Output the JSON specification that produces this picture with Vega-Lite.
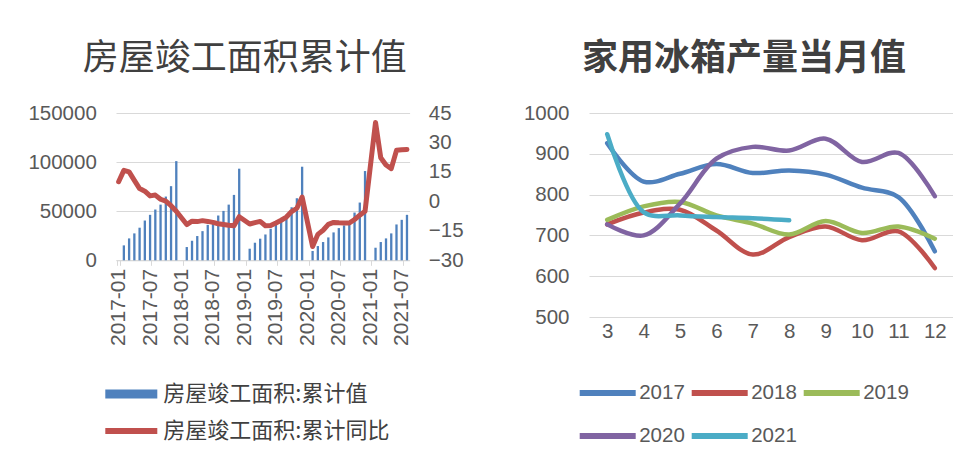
{
  "$schema": "https://vega.github.io/schema/vega-lite/v6.json",
  "background": "white",
  "padding": {"left": 27, "top": 41, "right": 0, "bottom": 0},
  "spacing": 59,
  "config": {
    "view": {"stroke": null},
    "axis": {"labelFont": "Liberation Sans", "labelFontSize": 20.5, "labelColor": "#595959", "titleColor": "#595959"},
    "legend": {"labelFont": "Liberation Sans", "labelColor": "#404040", "labelLimit": 400},
    "title": {"font": "Noto Sans CJK SC", "fontSize": 36, "color": "#404040", "anchor": "middle"}
  },
  "hconcat": [
    {
      "title": {"text": "房屋竣工面积累计值", "fontWeight": "normal", "dx": -18, "offset": 25},
      "width": 293.6,
      "height": 147.3,
      "data": {"values": [
        {"month": "2017-01", "value": null, "yoy": 10.0},
        {"month": "2017-02", "value": 15200, "yoy": 15.8},
        {"month": "2017-03", "value": 22300, "yoy": 15.0},
        {"month": "2017-04", "value": 27400, "yoy": 10.7},
        {"month": "2017-05", "value": 33200, "yoy": 6.5},
        {"month": "2017-06", "value": 40500, "yoy": 5.2},
        {"month": "2017-07", "value": 46300, "yoy": 2.8},
        {"month": "2017-08", "value": 51700, "yoy": 3.2},
        {"month": "2017-09", "value": 56700, "yoy": 1.1},
        {"month": "2017-10", "value": 64900, "yoy": 0.1},
        {"month": "2017-11", "value": 75500, "yoy": -2.2},
        {"month": "2017-12", "value": 101000, "yoy": -5.0},
        {"month": "2018-01", "value": null, "yoy": null},
        {"month": "2018-02", "value": 13500, "yoy": -11.8},
        {"month": "2018-03", "value": 19900, "yoy": -10.1},
        {"month": "2018-04", "value": 24700, "yoy": -10.3},
        {"month": "2018-05", "value": 29700, "yoy": -9.8},
        {"month": "2018-06", "value": 36100, "yoy": -10.2},
        {"month": "2018-07", "value": 40800, "yoy": -10.7},
        {"month": "2018-08", "value": 45600, "yoy": -11.4},
        {"month": "2018-09", "value": 50300, "yoy": -11.8},
        {"month": "2018-10", "value": 56700, "yoy": -12.2},
        {"month": "2018-11", "value": 66600, "yoy": -12.4},
        {"month": "2018-12", "value": 93300, "yoy": -7.8},
        {"month": "2019-01", "value": null, "yoy": null},
        {"month": "2019-02", "value": 11800, "yoy": -11.5},
        {"month": "2019-03", "value": 17900, "yoy": -10.8},
        {"month": "2019-04", "value": 22000, "yoy": -10.2},
        {"month": "2019-05", "value": 26300, "yoy": -12.4},
        {"month": "2019-06", "value": 32100, "yoy": -12.3},
        {"month": "2019-07", "value": 37200, "yoy": -11.0},
        {"month": "2019-08", "value": 40500, "yoy": -9.6},
        {"month": "2019-09", "value": 45600, "yoy": -8.0},
        {"month": "2019-10", "value": 54000, "yoy": -5.2},
        {"month": "2019-11", "value": 63200, "yoy": -3.5},
        {"month": "2019-12", "value": 95300, "yoy": 2.2},
        {"month": "2020-01", "value": null, "yoy": null},
        {"month": "2020-02", "value": 9500, "yoy": -23.0},
        {"month": "2020-03", "value": 14500, "yoy": -16.8},
        {"month": "2020-04", "value": 18600, "yoy": -14.7},
        {"month": "2020-05", "value": 23300, "yoy": -11.7},
        {"month": "2020-06", "value": 28400, "yoy": -10.7},
        {"month": "2020-07", "value": 32800, "yoy": -10.9},
        {"month": "2020-08", "value": 35500, "yoy": -11.0},
        {"month": "2020-09", "value": 38800, "yoy": -11.0},
        {"month": "2020-10", "value": 48600, "yoy": -9.2},
        {"month": "2020-11", "value": 58800, "yoy": -7.0},
        {"month": "2020-12", "value": 90900, "yoy": -5.0},
        {"month": "2021-01", "value": null, "yoy": null},
        {"month": "2021-02", "value": 12800, "yoy": 40.2},
        {"month": "2021-03", "value": 18600, "yoy": 22.2},
        {"month": "2021-04", "value": 22300, "yoy": 18.5},
        {"month": "2021-05", "value": 27400, "yoy": 16.7},
        {"month": "2021-06", "value": 36500, "yoy": 26.0},
        {"month": "2021-07", "value": 41200, "yoy": 26.3},
        {"month": "2021-08", "value": 46300, "yoy": 26.4}
      ]},
      "layer": [
        {
          "mark": {"type": "bar", "invalid": "filter"},
          "encoding": {
            "x": {
              "field": "month", "type": "ordinal",
              "scale": {
                "domain": ["2017-01","2017-02","2017-03","2017-04","2017-05","2017-06","2017-07","2017-08","2017-09","2017-10","2017-11","2017-12",
                           "2018-01","2018-02","2018-03","2018-04","2018-05","2018-06","2018-07","2018-08","2018-09","2018-10","2018-11","2018-12",
                           "2019-01","2019-02","2019-03","2019-04","2019-05","2019-06","2019-07","2019-08","2019-09","2019-10","2019-11","2019-12",
                           "2020-01","2020-02","2020-03","2020-04","2020-05","2020-06","2020-07","2020-08","2020-09","2020-10","2020-11","2020-12",
                           "2021-01","2021-02","2021-03","2021-04","2021-05","2021-06","2021-07","2021-08"],
                "paddingInner": 0.56, "paddingOuter": 0.28
              },
              "axis": {
                "values": ["2017-01","2017-07","2018-01","2018-07","2019-01","2019-07","2020-01","2020-07","2021-01","2021-07"],
                "labelAngle": -90, "title": null, "grid": false,
                "tickSize": 5, "tickColor": "#d9d9d9", "domainColor": "#d9d9d9",
                "tickBand": "extent", "labelPadding": 3, "labelFontSize": 21
              }
            },
            "y": {
              "field": "value", "type": "quantitative",
              "scale": {"domain": [0, 150000], "nice": false},
              "axis": {"orient": "left", "values": [0, 50000, 100000, 150000], "format": "d", "grid": true, "gridColor": "#d9d9d9", "domain": false, "ticks": false, "labelPadding": 19.7, "title": null}
            },
            "fill": {
              "datum": "房屋竣工面积:累计值",
              "scale": {"range": ["#4F81BD"]},
              "legend": {"orient": "none", "legendX": -10.7, "legendY": 255, "title": null, "symbolType": "M-1,-0.17L1,-0.17L1,0.17L-1,0.17Z", "symbolSize": 2704, "symbolStrokeWidth": 0, "labelFont": "Noto Sans CJK SC", "labelFontSize": 22, "labelOffset": 6}
            }
          }
        },
        {
          "mark": {"type": "line", "strokeWidth": 5, "strokeJoin": "round", "strokeCap": "round", "invalid": "filter"},
          "encoding": {
            "x": {"field": "month", "type": "ordinal"},
            "y": {
              "field": "yoy", "type": "quantitative",
              "scale": {"domain": [-30, 45], "nice": false},
              "axis": {"orient": "right", "values": [-30, -15, 0, 15, 30, 45], "grid": false, "domain": false, "ticks": false, "labelPadding": 18.7, "title": null}
            },
            "stroke": {
              "datum": "房屋竣工面积:累计同比",
              "scale": {"range": ["#C0504D"]},
              "legend": {"orient": "none", "legendX": -13.7, "legendY": 289, "title": null, "symbolType": "stroke", "symbolSize": 2704, "symbolStrokeWidth": 6, "labelFont": "Noto Sans CJK SC", "labelFontSize": 22, "labelOffset": 3}
            }
          }
        }
      ],
      "resolve": {"scale": {"y": "independent"}}
    },
    {
      "title": {"text": "家用冰箱产量当月值", "fontWeight": "bold", "dx": -27, "offset": 25},
      "width": 364,
      "height": 204,
      "data": {"values": [
        {"m": 3, "year": "2017", "v": 926}, {"m": 4, "year": "2017", "v": 832}, {"m": 5, "year": "2017", "v": 851}, {"m": 6, "year": "2017", "v": 875}, {"m": 7, "year": "2017", "v": 853},
        {"m": 8, "year": "2017", "v": 859}, {"m": 9, "year": "2017", "v": 849}, {"m": 10, "year": "2017", "v": 817}, {"m": 11, "year": "2017", "v": 794}, {"m": 12, "year": "2017", "v": 661},
        {"m": 3, "year": "2018", "v": 727}, {"m": 4, "year": "2018", "v": 756}, {"m": 5, "year": "2018", "v": 763}, {"m": 6, "year": "2018", "v": 712}, {"m": 7, "year": "2018", "v": 653},
        {"m": 8, "year": "2018", "v": 696}, {"m": 9, "year": "2018", "v": 722}, {"m": 10, "year": "2018", "v": 688}, {"m": 11, "year": "2018", "v": 710}, {"m": 12, "year": "2018", "v": 620},
        {"m": 3, "year": "2019", "v": 738}, {"m": 4, "year": "2019", "v": 771}, {"m": 5, "year": "2019", "v": 782}, {"m": 6, "year": "2019", "v": 749}, {"m": 7, "year": "2019", "v": 729},
        {"m": 8, "year": "2019", "v": 702}, {"m": 9, "year": "2019", "v": 735}, {"m": 10, "year": "2019", "v": 706}, {"m": 11, "year": "2019", "v": 722}, {"m": 12, "year": "2019", "v": 692},
        {"m": 3, "year": "2020", "v": 727}, {"m": 4, "year": "2020", "v": 700}, {"m": 5, "year": "2020", "v": 778}, {"m": 6, "year": "2020", "v": 888}, {"m": 7, "year": "2020", "v": 917},
        {"m": 8, "year": "2020", "v": 908}, {"m": 9, "year": "2020", "v": 937}, {"m": 10, "year": "2020", "v": 880}, {"m": 11, "year": "2020", "v": 902}, {"m": 12, "year": "2020", "v": 796},
        {"m": 3, "year": "2021", "v": 948}, {"m": 4, "year": "2021", "v": 757}, {"m": 5, "year": "2021", "v": 749}, {"m": 6, "year": "2021", "v": 745}, {"m": 7, "year": "2021", "v": 742},
        {"m": 8, "year": "2021", "v": 737}
      ]},
      "mark": {"type": "line", "interpolate": "catmull-rom", "strokeWidth": 4.5, "strokeCap": "round", "strokeJoin": "round"},
      "encoding": {
        "x": {
          "field": "m", "type": "ordinal",
          "scale": {"type": "point", "padding": 0.5},
          "axis": {"labelAngle": 0, "domain": false, "ticks": false, "labelPadding": 4, "title": null, "grid": false}
        },
        "y": {
          "field": "v", "type": "quantitative",
          "scale": {"domain": [500, 1000], "nice": false},
          "axis": {"values": [500, 600, 700, 800, 900, 1000], "format": "d", "grid": true, "gridColor": "#d9d9d9", "domain": false, "ticks": false, "labelPadding": 20, "title": null}
        },
        "color": {
          "field": "year", "type": "nominal",
          "scale": {"domain": ["2017", "2018", "2019", "2020", "2021"], "range": ["#4F81BD", "#C0504D", "#9BBB59", "#8064A2", "#4BACC6"]},
          "legend": {"orient": "none", "legendX": 460.7, "legendY": 249, "title": null, "columns": 3, "direction": "horizontal", "symbolType": "stroke", "symbolSize": 3136, "symbolStrokeWidth": 6, "labelFontSize": 20.5, "labelColor": "#595959", "labelOffset": 0.5, "columnPadding": -6, "rowPadding": -3}
        }
      }
    }
  ]
}
